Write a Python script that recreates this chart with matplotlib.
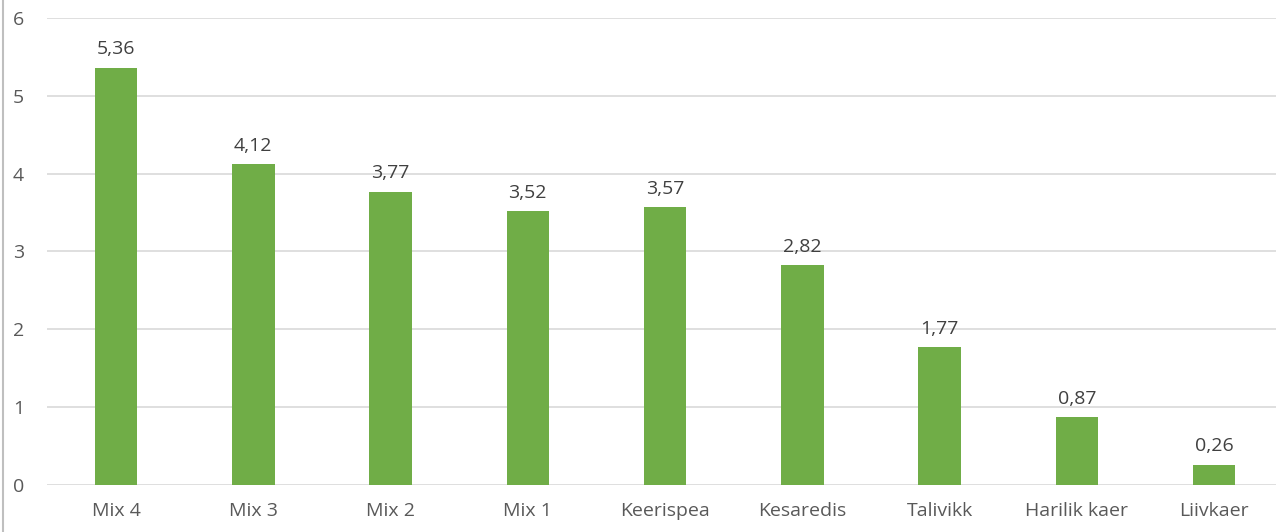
import matplotlib
matplotlib.use("Agg")
import matplotlib.pyplot as plt
from matplotlib.lines import Line2D

categories = ["Mix 4", "Mix 3", "Mix 2", "Mix 1", "Keerispea", "Kesaredis",
              "Talivikk", "Harilik kaer", "Liivkaer"]
values = [5.36, 4.12, 3.77, 3.52, 3.57, 2.82, 1.77, 0.87, 0.26]
yticks = [0, 1, 2, 3, 4, 5, 6]

plt.rcParams["font.family"] = ["Open Sans", "DejaVu Sans"]
TXT = "#595959"
GREEN = "#70AD47"

fig = plt.figure(figsize=(12.76, 5.32), dpi=100)
ax = fig.add_axes([0.0372, 0.0883, 0.968, 0.878])

x = range(len(categories))
ax.bar(x, values, width=0.31, color=GREEN, zorder=3)
for xi, v in zip(x, values):
    ax.text(xi, v + 0.12, f"{v:.2f}".replace(".", ","), ha="center", va="bottom",
            fontsize=14, color="#404040")

ax.set_xlim(-0.5, len(categories) - 0.5)
ax.set_ylim(0, 6)
ax.set_yticks(yticks)
ax.set_xticks(list(x))
ax.set_xticklabels(categories)
ax.grid(axis="y", color="#D9D9D9", linewidth=1.2, zorder=0)
for s in ax.spines.values():
    s.set_visible(False)
ax.tick_params(length=0, labelsize=14, colors=TXT)
ax.tick_params(axis="x", pad=12)
ax.tick_params(axis="y", pad=17)

fig.add_artist(Line2D([0.002, 0.002], [0, 1], color="#BFBFBF", linewidth=1.5,
                      transform=fig.transFigure))

fig.savefig("out.png", dpi=100)
